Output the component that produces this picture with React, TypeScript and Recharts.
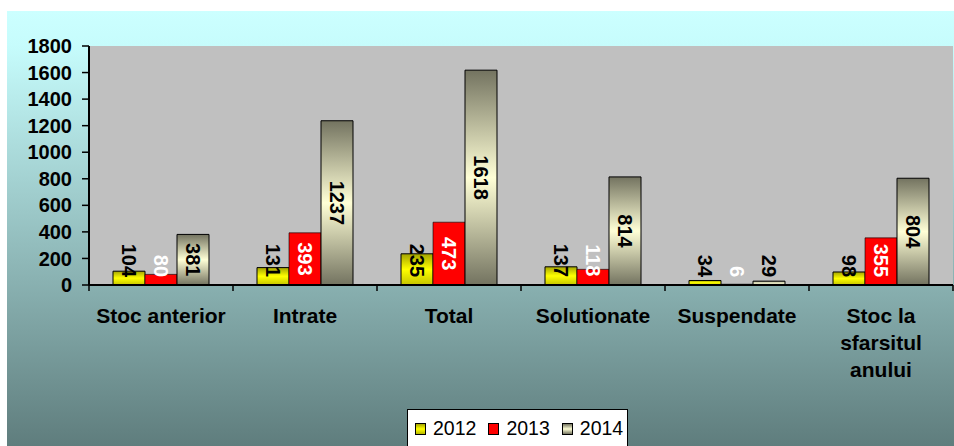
import React from "react";
import {
  BarChart,
  Bar,
  XAxis,
  YAxis,
  CartesianGrid,
  LabelList,
} from "recharts";

// categories (a "\n" splits a label over several lines)
const CATEGORIES = [
  "Stoc anterior",
  "Intrate",
  "Total",
  "Solutionate",
  "Suspendate",
  "Stoc la\nsfarsitul\nanului",
];
const Y2012 = [104, 131, 235, 137, 34, 98];
const Y2013 = [80, 393, 473, 118, 6, 355];
const Y2014 = [381, 1237, 1618, 814, 29, 804];
const Y_TICKS = [0, 200, 400, 600, 800, 1000, 1200, 1400, 1600, 1800];

const data = CATEGORIES.map((name, i) => ({
  name,
  y2012: Y2012[i],
  y2013: Y2013[i],
  y2014: Y2014[i],
}));

const W = 947;
const H = 435;
const MARGIN = { top: 35, right: 1, left: 0, bottom: 0 };
const Y_AXIS_W = 82;
const BAND = (W - MARGIN.left - MARGIN.right - Y_AXIS_W) / CATEGORIES.length;
const FONT = "'Liberation Sans', Arial, sans-serif";
const LABEL_SIZE = 20;

function CategoryTick(props: any) {
  const { x, y, payload, index } = props;
  const lines = String(payload.value).split("\n");
  const left = x - BAND / 2;
  const right = x + BAND / 2;
  return (
    <g>
      <line x1={left} y1={y} x2={left} y2={y + 6} stroke="#000" strokeWidth={1.5} />
      {index === CATEGORIES.length - 1 && (
        <line x1={right} y1={y} x2={right} y2={y + 6} stroke="#000" strokeWidth={1.5} />
      )}
      <text
        x={x}
        y={y}
        textAnchor="middle"
        fontFamily={FONT}
        fontWeight="bold"
        fontSize={21}
        fill="#000"
      >
        {lines.map((l, i) => (
          <tspan key={i} x={x} y={y + 38 + i * 27}>
            {l}
          </tspan>
        ))}
      </text>
    </g>
  );
}

const barLabel = (color: string) => (props: any) => {
  const x = Number(props.x);
  const y = Number(props.y);
  const w = Number(props.width);
  const h = Number(props.height);
  const cx = x + w / 2;
  const bottom = y + h;
  const len = String(props.value).length * 0.556 * LABEL_SIZE;
  const cy = Math.min(y + h / 2, bottom - 8 - len / 2);
  return (
    <text
      x={cx}
      y={cy}
      transform={`rotate(90 ${cx} ${cy})`}
      textAnchor="middle"
      dominantBaseline="central"
      fontFamily={FONT}
      fontWeight="bold"
      fontSize={LABEL_SIZE}
      fill={color}
    >
      {props.value}
    </text>
  );
};

const LEGEND = [
  { label: "2012", bg: "linear-gradient(#a3a300, #ffff00 50%, #b8b800)" },
  { label: "2013", bg: "#ff0000" },
  { label: "2014", bg: "linear-gradient(#737360, #ffffd6 50%, #737360)" },
];

export default function App() {
  return (
    <div
      style={{
        position: "absolute",
        left: 7,
        top: 11,
        width: W,
        height: H,
        overflow: "hidden",
        background: "linear-gradient(#ccffff 0%, #c6fcfc 8%, #5f7d7d 100%)",
        fontFamily: FONT,
      }}
    >
      <BarChart
        width={W}
        height={H}
        data={data}
        margin={MARGIN}
        barCategoryGap={24}
        barGap={0}
      >
        <defs>
          <linearGradient id="g2012" x1="0" y1="0" x2="0" y2="1">
            <stop offset="0%" stopColor="#a3a300" />
            <stop offset="50%" stopColor="#ffff00" />
            <stop offset="100%" stopColor="#c4c400" />
          </linearGradient>
          <linearGradient id="g2014" x1="0" y1="0" x2="0" y2="1">
            <stop offset="0%" stopColor="#737360" />
            <stop offset="50%" stopColor="#ffffd6" />
            <stop offset="100%" stopColor="#737360" />
          </linearGradient>
        </defs>
        <CartesianGrid horizontal={false} vertical={false} fill="#c0c0c0" stroke="none" />
        <XAxis
          dataKey="name"
          height={H - MARGIN.top - MARGIN.bottom - 239}
          tickLine={false}
          tickSize={0}
          tickMargin={0}
          axisLine={{ stroke: "#000", strokeWidth: 2 }}
          tick={<CategoryTick />}
          interval={0}
        />
        <YAxis
          width={Y_AXIS_W}
          domain={[0, 1800]}
          ticks={Y_TICKS}
          interval={0}
          tickSize={7}
          tickMargin={10}
          axisLine={{ stroke: "#000", strokeWidth: 2 }}
          tickLine={{ stroke: "#000", strokeWidth: 1.5 }}
          tick={{ fill: "#000", fontSize: 20, fontWeight: "bold", fontFamily: FONT }}
        />
        <Bar dataKey="y2012" fill="url(#g2012)" stroke="#000" strokeWidth={1} isAnimationActive={false}>
          <LabelList dataKey="y2012" content={barLabel("#000")} />
        </Bar>
        <Bar dataKey="y2013" fill="#ff0000" stroke="#000" strokeWidth={0.6} isAnimationActive={false}>
          <LabelList dataKey="y2013" content={barLabel("#fff")} />
        </Bar>
        <Bar dataKey="y2014" fill="url(#g2014)" stroke="#000" strokeWidth={1} isAnimationActive={false}>
          <LabelList dataKey="y2014" content={barLabel("#000")} />
        </Bar>
      </BarChart>
      <div
        style={{
          position: "absolute",
          left: 400,
          top: 398,
          width: 221,
          height: 50,
          background: "#fff",
          border: "1px solid #000",
          display: "flex",
          alignItems: "flex-start",
          paddingTop: 8,
          paddingLeft: 7,
          boxSizing: "border-box",
          fontSize: 19.5,
          lineHeight: "20px",
          color: "#000",
        }}
      >
        {LEGEND.map((item) => (
          <div key={item.label} style={{ display: "flex", alignItems: "center", marginRight: 12 }}>
            <span
              style={{
                display: "inline-block",
                width: 9,
                height: 10,
                background: item.bg,
                border: "1px solid #000",
                marginRight: 7,
                marginTop: 2,
              }}
            />
            <span>{item.label}</span>
          </div>
        ))}
      </div>
    </div>
  );
}
